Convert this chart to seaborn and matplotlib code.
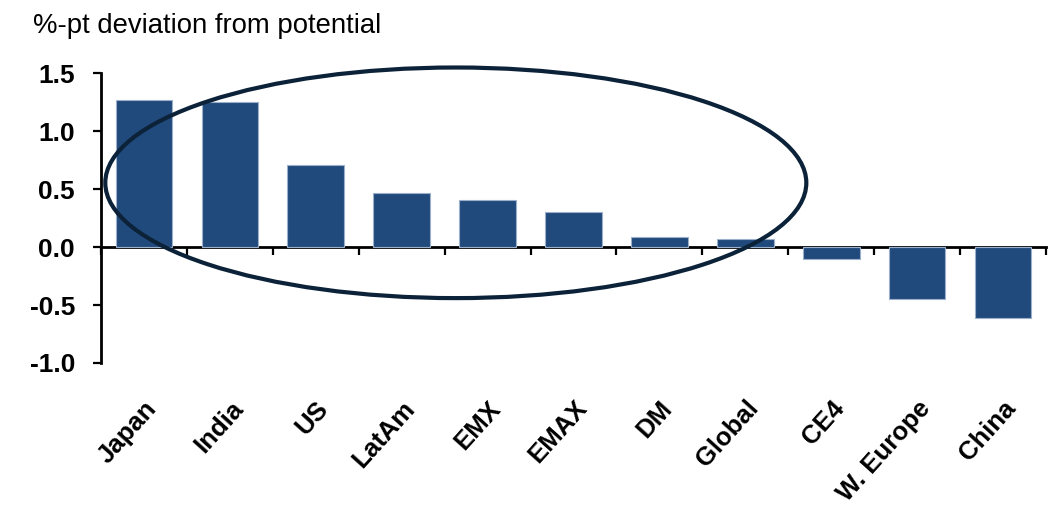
import matplotlib
matplotlib.use("Agg")
import matplotlib.pyplot as plt
from matplotlib.patches import Ellipse
import seaborn as sns
import pandas as pd

categories = ["Japan", "India", "US", "LatAm", "EMX", "EMAX", "DM", "Global",
              "CE4", "W. Europe", "China"]
values = [1.27, 1.25, 0.71, 0.47, 0.41, 0.30, 0.09, 0.07, -0.10, -0.45, -0.61]
y_ticks = [-1.0, -0.5, 0.0, 0.5, 1.0, 1.5]
title = "%-pt deviation from potential"

sns.set_theme(style="white")
plt.rcParams["font.family"] = ["Liberation Sans", "DejaVu Sans"]
plt.rcParams["axes.unicode_minus"] = False

bar_color = "#214A7C"
ink = "#000000"

fig = plt.figure(figsize=(10.56, 5.05), dpi=100)
ax = fig.add_axes([101 / 1056, 1 - 363 / 505, 945 / 1056, (363 - 73.3) / 505])

df = pd.DataFrame({"region": categories, "value": values})
sns.barplot(data=df, x="region", y="value", color=bar_color, saturation=1,
            width=0.66, edgecolor="#9DB0CB", linewidth=0.8, ax=ax)

ymin, ymax = y_ticks[0], y_ticks[-1]
ax.set_ylim(ymin, ymax)
ax.set_xlim(-0.5, len(categories) - 0.5)
ax.set_xlabel("")
ax.set_ylabel("")

ax.set_yticks(y_ticks)
ax.set_yticklabels([f"{t:.1f}" for t in y_ticks], fontsize=19, fontweight="bold")
ax.tick_params(axis="y", direction="out", length=5.8, width=1.6, pad=13, color=ink,
               left=True, labelcolor=ink)

for s in ["top", "right", "bottom"]:
    ax.spines[s].set_visible(False)
ax.spines["left"].set_linewidth(2.0)
ax.spines["left"].set_color(ink)

ax.set_xticks(range(len(categories)))
ax.set_xticklabels(categories, rotation=48, ha="right", va="top",
                   rotation_mode="anchor", fontsize=18.5, fontweight="bold")
ax.tick_params(axis="x", length=0, pad=24, labelcolor=ink)

# zero line with category-boundary ticks
zero_loc = (0 - ymin) / (ymax - ymin)
sec = ax.secondary_xaxis(zero_loc)
bounds = [i + 0.5 for i in range(-1, len(categories))]
sec.set_xticks(bounds)
sec.set_xticklabels([""] * len(bounds))
sec.tick_params(direction="out", length=5.8, width=1.6, color=ink)
sec.spines["bottom"].set_linewidth(2.0)
sec.spines["bottom"].set_color(ink)

# highlight ellipse
ell = Ellipse((3.63, 0.555), width=8.16, height=1.99, fill=False,
              edgecolor="#0B2239", linewidth=3.0, clip_on=False, zorder=5)
ax.add_patch(ell)

fig.text(33 / 1056, 1 - 33 / 505, title, fontsize=19.8, va="baseline", ha="left", color=ink)

fig.savefig("out.png", dpi=100, facecolor="white")
